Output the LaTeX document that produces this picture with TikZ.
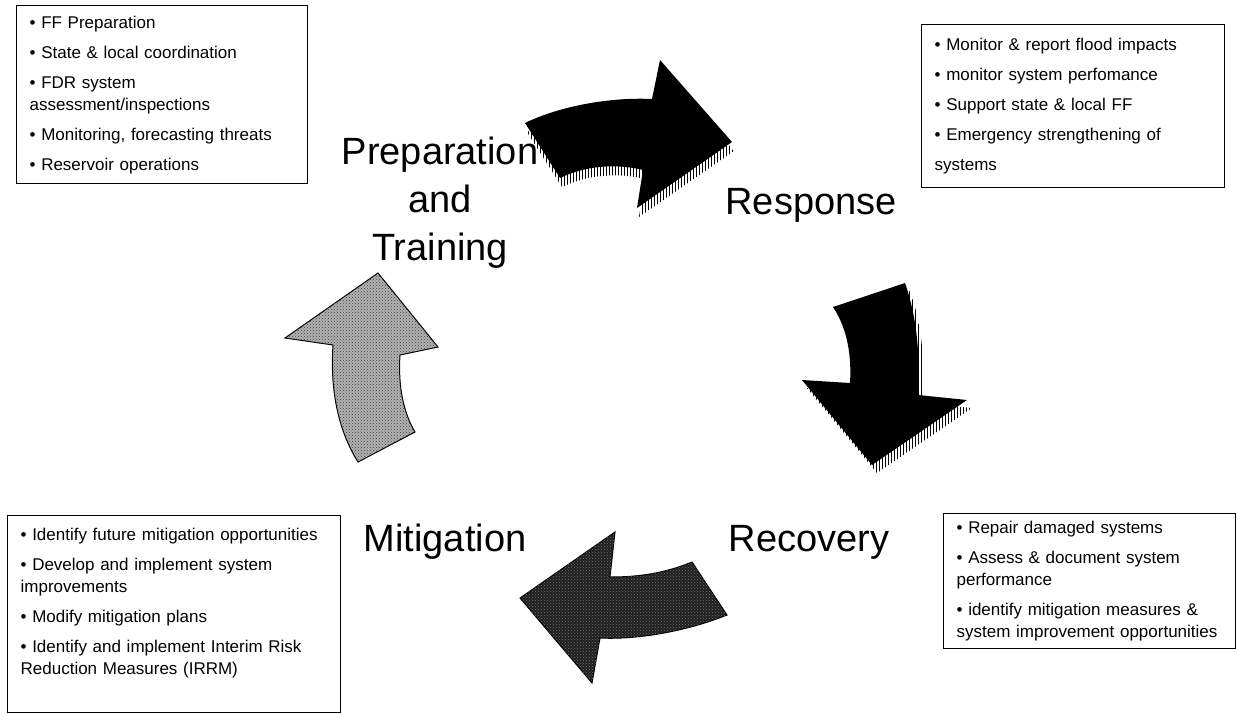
\documentclass[tikz,border=0pt]{standalone}
\usepackage{fontspec}
\setmainfont{Liberation Sans}
\usetikzlibrary{patterns}

\tikzset{
  infobox/.style={draw, line width=1.3pt, anchor=north west, align=left,
    inner xsep=13pt, inner ysep=4pt, font=\fontsize{17}{22}\selectfont},
  phase/.style={align=center, font=\fontsize{38}{48}\selectfont},
  hatch/.style={pattern=vertical lines},
  darkdots/.style={fill=black!88, line width=1pt, postaction={pattern=crosshatch dots, pattern color=black!55}},
  lightdots/.style={fill=black!30, line width=1pt, postaction={pattern=crosshatch dots, pattern color=black!75}},
}

% arrow outlines, in picture pixels (y down)
\newcommand{\respArrow}{(525,123) .. controls (560,106) and (610,97) .. (652,99) -- (660,60) -- (732,142) -- (637,208) -- (643,170) .. controls (615,163) and (585,166) .. (560,178) -- cycle}
\newcommand{\recoArrow}{(833,307) -- (905,283) .. controls (918,320) and (920,360) .. (918,395) -- (967,400) -- (872,465) -- (802,380) -- (850,383) .. controls (852,350) and (845,325) .. (833,307) -- cycle}

\begin{document}
\begin{tikzpicture}[x=1pt,y=-1pt]
  \useasboundingbox (0,0) rectangle (1237,713);

  % the four boxes
  \node[infobox, text width=265pt, minimum width=291pt, minimum height=178pt] (prepbox) at (16,5)
    {• FF Preparation\\[8pt]
     • State \& local coordination\\[8pt]
     • FDR system\\assessment/inspections\\[8pt]
     • Monitoring, forecasting threats\\[8pt]
     • Reservoir operations};
  \node[infobox, text width=277pt, minimum width=303pt, minimum height=163pt] (respbox) at (921,24)
    {• Monitor \& report flood impacts\\[8pt]
     • monitor system perfomance\\[8pt]
     • Support state \& local FF\\[8pt]
     • Emergency strengthening of\\[8pt]
     systems};
  \node[infobox, text width=266pt, minimum width=292pt, minimum height=135pt] (recobox) at (943,513)
    {• Repair damaged systems\\[8pt]
     • Assess \& document system\\performance\\[8pt]
     • identify mitigation measures \&\\system improvement opportunities};
  \node[infobox, text width=307pt, minimum width=333pt, minimum height=197pt] (mitibox) at (7,515)
    {• Identify future mitigation opportunities\\[8pt]
     • Develop and implement system\\improvements\\[8pt]
     • Modify mitigation plans\\[8pt]
     • Identify and implement Interim Risk\\Reduction Measures (IRRM)\\[3pt]~};

  % phase names
  \node[phase] (prep) at (440,203) {Preparation\\and\\Training};
  \node[phase] (resp) at (811,205) {Response};
  \node[phase] (reco) at (809,542) {Recovery};
  \node[phase] (miti) at (445,542) {Mitigation};

  % cycle arrows
  \fill[hatch, shift={(2,9)}] \respArrow;
  \fill[black] \respArrow;

  \fill[hatch, shift={(5,8)}] \recoArrow;
  \fill[black] \recoArrow;

  \draw[darkdots] (615,532) -- (610,577) .. controls (640,577) and (665,573) .. (692,562) -- (727,615) .. controls (690,630) and (640,640) .. (600,638) -- (592,683) -- (520,598) -- cycle;

  \draw[lightdots] (378,273) -- (438,347) -- (400,355) .. controls (398,385) and (403,412) .. (415,432) -- (358,462) .. controls (338,430) and (330,390) .. (333,345) -- (285,338) -- cycle;
\end{tikzpicture}
\end{document}
